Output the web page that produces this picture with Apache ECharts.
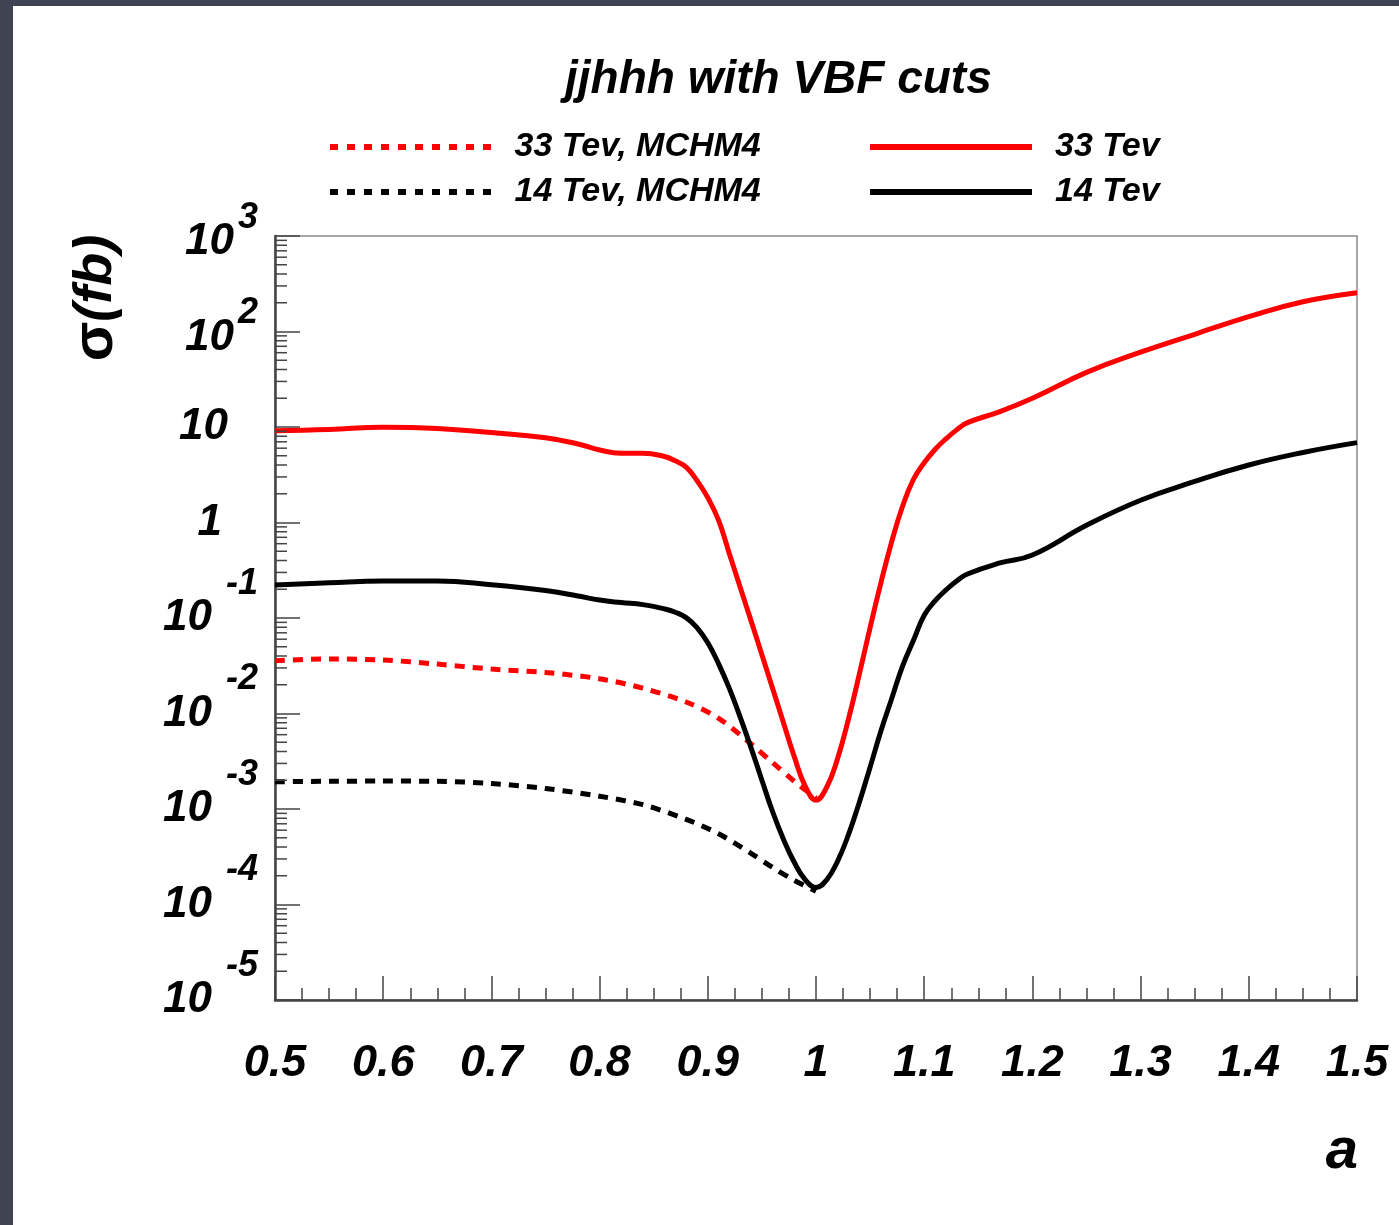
<!DOCTYPE html>
<html>
<head>
<meta charset="utf-8">
<title>jjhhh with VBF cuts</title>
<script src="https://cdn.jsdelivr.net/npm/echarts@6/dist/echarts.min.js"></script>
<style>
  html, body { margin: 0; padding: 0; background: #3f4352; overflow: hidden; }
  #paper { position: absolute; left: 13px; top: 6px; width: 1386px; height: 1219px; background: #ffffff; }
  #chart { position: absolute; left: 0; top: 0; width: 1399px; height: 1225px; }
</style>
</head>
<body>
<div id="paper"></div>
<div id="chart"></div>
<script>
// Coupling a on the x axis, cross section sigma (fb) on a log y axis.
const aFull = [0.50, 0.55, 0.60, 0.65, 0.70, 0.75, 0.78, 0.80, 0.82, 0.84, 0.86,
               0.87, 0.88, 0.89, 0.90, 0.91, 0.92, 0.93, 0.94, 0.95, 0.96, 0.97, 0.98, 0.99,
               1.00, 1.01, 1.02, 1.03, 1.04, 1.05, 1.06, 1.07, 1.08, 1.09, 1.10, 1.11, 1.12, 1.13, 1.14,
               1.17, 1.20, 1.25, 1.30, 1.35, 1.40, 1.45, 1.50];

const sigma33 = [9.15, 9.42, 9.93, 9.65, 8.75, 7.73, 6.64, 5.74, 5.31, 5.31, 4.91,
                 4.42, 3.80, 2.75, 1.82, 1.05, 0.468, 0.209, 0.0933, 0.0412, 0.0182, 0.00794, 0.00351, 0.00174,
                 0.00124, 0.0017, 0.00339, 0.00871, 0.0257, 0.0794, 0.234, 0.631, 1.48, 2.82, 4.22, 5.82, 7.50, 9.33, 11.1,
                 14.5, 20, 37.3, 60.7, 93.5, 143, 205, 255];

const sigma14 = [0.222, 0.234, 0.244, 0.244, 0.223, 0.194, 0.170, 0.154, 0.145, 0.138, 0.1245,
                 0.115, 0.101, 0.0794, 0.055, 0.0331, 0.0182, 0.00912, 0.00437, 0.0020, 0.00093, 0.00048, 0.000275, 0.000182,
                 0.000151, 0.000182, 0.000285, 0.000538, 0.00117, 0.00274, 0.00656, 0.01436, 0.0314, 0.058, 0.107, 0.151, 0.196, 0.244, 0.289,
                 0.377, 0.457, 0.935, 1.71, 2.69, 4.0, 5.41, 6.86];

// MCHM4 curves stop at a = 1
const aMCHM4 = [0.50, 0.55, 0.60, 0.65, 0.70, 0.75, 0.80, 0.84, 0.88, 0.91, 0.94, 0.96, 0.98, 1.00];
const sigma33MCHM4 = [0.0357, 0.0372, 0.0363, 0.0329, 0.0292, 0.0269, 0.0231, 0.0184, 0.0132, 0.0089,
                      0.0048, 0.00305, 0.00195, 0.0013];
const sigma14MCHM4 = [0.00193, 0.00195, 0.00196, 0.00195, 0.00185, 0.00164, 0.00136, 0.00111, 0.00078,
                      0.00055, 0.000343, 0.000244, 0.000179, 0.000138];

const seriesNames = ['33 Tev, MCHM4', '14 Tev, MCHM4', '33 Tev', '14 Tev'];
const titleText = 'jjhhh with VBF cuts';

// ROOT-style minor ticks at 2..9 inside every decade of the log axis
const yDecades = [-5, -4, -3, -2, -1, 0, 1, 2];
const yMantissas = [2, 3, 4, 5, 6, 7, 8, 9];
const yMinorTicks = [];
yDecades.forEach(e => yMantissas.forEach(m => yMinorTicks.push(m * Math.pow(10, e))));

const FONT = '"Liberation Sans", Arial, Helvetica, sans-serif';
const RED = '#ff0000';
const BLACK = '#000000';

// legend glyphs: a row of short dashes, and a solid bar
let dashPath = 'path://';
for (let i = 0; i < 10; i++) dashPath += 'M' + (i * 17) + ',0h8v6h-8z';
const SOLID_ICON = 'rect';

const pairs = (xs, ys) => xs.map((x, i) => [x, ys[i]]);

const legendBase = {
  padding: 0,
  itemWidth: 162,
  itemHeight: 6,
  selectedMode: false,
  textStyle: {
    fontFamily: FONT, fontSize: 34, fontWeight: 'bold', fontStyle: 'italic',
    color: '#000', padding: [0, 0, 0, 18], lineHeight: 40
  }
};

const chart = echarts.init(document.getElementById('chart'), null, { renderer: 'canvas' });

chart.setOption({
  backgroundColor: 'transparent',
  animation: false,
  title: {
    text: titleText,
    left: 565,
    top: 57,
    padding: 0,
    textStyle: { fontFamily: FONT, fontSize: 46, fontWeight: 'bold', fontStyle: 'italic', color: '#000' }
  },
  legend: [
    Object.assign({}, legendBase, { data: [{ name: seriesNames[0], icon: dashPath }], left: 330, top: 127 }),
    Object.assign({}, legendBase, { data: [{ name: seriesNames[1], icon: dashPath }], left: 330, top: 172 }),
    Object.assign({}, legendBase, { data: [{ name: seriesNames[2], icon: SOLID_ICON }], left: 870, top: 127 }),
    Object.assign({}, legendBase, { data: [{ name: seriesNames[3], icon: SOLID_ICON }], left: 870, top: 172 })
  ],
  grid: {
    left: 275, top: 236, right: 42, bottom: 225,
    show: true, borderColor: '#8a8a8a', borderWidth: 1.5, backgroundColor: 'transparent'
  },
  xAxis: {
    type: 'value',
    min: 0.5, max: 1.5, interval: 0.1,
    axisLine: { lineStyle: { color: '#444', width: 2.5 } },
    axisTick: { inside: true, length: 24, lineStyle: { color: '#444', width: 1.5 } },
    minorTick: { show: true, splitNumber: 4, length: 12, lineStyle: { color: '#444', width: 1.5 } },
    splitLine: { show: false },
    axisLabel: {
      margin: 41,
      fontFamily: FONT, fontSize: 45, fontWeight: 'bold', fontStyle: 'italic', color: '#000',
      formatter: v => String(Math.round(v * 10) / 10)
    }
  },
  yAxis: {
    type: 'log', logBase: 10,
    min: 1e-5, max: 1e3, splitNumber: 8,
    axisLine: { lineStyle: { color: '#444', width: 2.5 } },
    axisTick: { inside: true, length: 25, lineStyle: { color: '#444', width: 1.5 } },
    splitLine: { show: false },
    axisLabel: {
      margin: 17,
      color: '#000',
      formatter: function (v) {
        const e = Math.round(Math.log10(v));
        if (e >= 2) return '{bp|10}{sp|' + e + '}';
        if (e === 1) return '{b|10}{w10|}';
        if (e === 0) return '{b|1}{w1|}';
        return '{b|10}{gap|}{sn|' + e + '}';
      },
      rich: {
        b: { fontFamily: FONT, fontSize: 44, fontWeight: 'bold', fontStyle: 'italic', color: '#000' },
        bp: { fontFamily: FONT, fontSize: 44, fontWeight: 'bold', fontStyle: 'italic', color: '#000', padding: [12, 0, 0, 0] },
        sp: { fontFamily: FONT, fontSize: 36, fontWeight: 'bold', fontStyle: 'italic', color: '#000', padding: [0, 0, 36, 4] },
        sn: { fontFamily: FONT, fontSize: 36, fontWeight: 'bold', fontStyle: 'italic', color: '#000', padding: [0, 0, 68, 0] },
        gap: { width: 14 },
        w10: { width: 30 },
        w1: { width: 36 }
      }
    }
  },
  graphic: [
    {
      type: 'text', x: 96, y: 298, rotation: Math.PI / 2,
      style: {
        text: '{g|σ}{t|(fb)}',
        textAlign: 'center', textVerticalAlign: 'middle',
        rich: {
          g: { fontFamily: FONT, fontSize: 58, fontWeight: 'bold', fill: '#000' },
          t: { fontFamily: FONT, fontSize: 54, fontWeight: 'bold', fontStyle: 'italic', fill: '#000' }
        }
      }
    },
    {
      type: 'text', x: 1342, y: 1152,
      style: {
        text: 'a', textAlign: 'center', textVerticalAlign: 'middle',
        fontFamily: FONT, fontSize: 58, fontWeight: 'bold', fontStyle: 'italic', fill: '#000'
      }
    }
  ],
  series: [
    {
      name: seriesNames[0], type: 'line', data: pairs(aMCHM4, sigma33MCHM4),
      symbol: 'none', smooth: 0.3, z: 2,
      itemStyle: { color: RED },
      lineStyle: { color: RED, width: 5, type: [10, 8] }
    },
    {
      name: seriesNames[1], type: 'line', data: pairs(aMCHM4, sigma14MCHM4),
      symbol: 'none', smooth: 0.3, z: 2,
      itemStyle: { color: BLACK },
      lineStyle: { color: BLACK, width: 5, type: [10, 8] }
    },
    {
      name: seriesNames[2], type: 'line', data: pairs(aFull, sigma33),
      symbol: 'none', smooth: 0.45, z: 3,
      itemStyle: { color: RED },
      lineStyle: { color: RED, width: 5 }
    },
    {
      name: seriesNames[3], type: 'line', data: pairs(aFull, sigma14),
      symbol: 'none', smooth: 0.45, z: 3,
      itemStyle: { color: BLACK },
      lineStyle: { color: BLACK, width: 5 }
    },
    {
      // minor ticks of the logarithmic y axis
      name: 'yMinorTicks', type: 'custom', silent: true, clip: false, z: 4,
      data: yMinorTicks.map(v => [0.5, v]),
      renderItem: function (params, api) {
        const p = api.coord([api.value(0), api.value(1)]);
        return {
          type: 'line',
          shape: { x1: p[0], y1: p[1], x2: p[0] + 12, y2: p[1] },
          style: { stroke: '#444', lineWidth: 1.5 }
        };
      }
    }
  ]
});
</script>
</body>
</html>
